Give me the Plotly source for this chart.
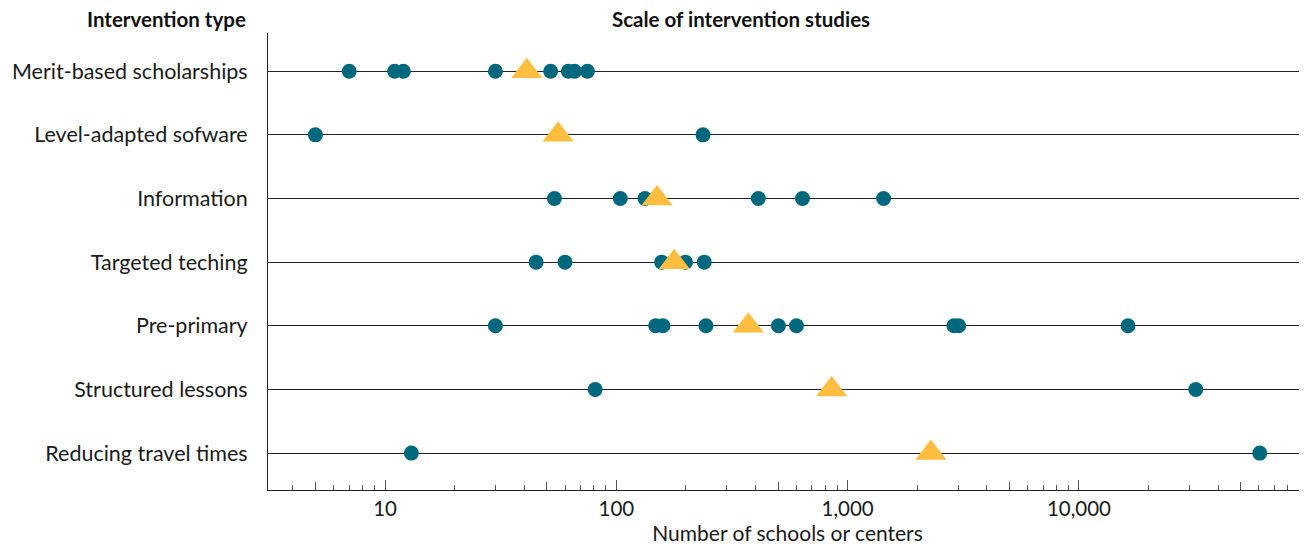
import plotly.graph_objects as go

categories = [
    "Merit-based scholarships",
    "Level-adapted sofware",
    "Information",
    "Targeted teching",
    "Pre-primary",
    "Structured lessons",
    "Reducing travel times",
]

merit_studies = [7, 11, 12, 30, 52, 62, 66, 75]
software_studies = [5, 237]
information_studies = [54, 104, 133, 411, 638, 1430]
targeted_studies = [45, 60, 157, 199, 240]
preprimary_studies = [30, 148, 159, 244, 502, 601, 2880, 3020, 16300]
structured_studies = [81, 32000]
travel_studies = [13, 60500]

study_values = [
    merit_studies,
    software_studies,
    information_studies,
    targeted_studies,
    preprimary_studies,
    structured_studies,
    travel_studies,
]

average_values = [41, 56, 150, 178, 372, 853, 2290]

tick_values = [10, 100, 1000, 10000]
tick_labels = ["10", "100", "1,000", "10,000"]
mid_tick_values = [5, 50, 500, 5000, 50000]

TEAL = "#00687D"
YELLOW = "#FFBE40"
FONT = "Lato"
TXT = "#1a1a1a"

fig = go.Figure()

xs, ys = [], []
for cat, vals in zip(categories, study_values):
    for v in vals:
        xs.append(v)
        ys.append(cat)

fig.add_trace(go.Scatter(
    x=xs, y=ys, mode="markers",
    marker=dict(symbol="circle", size=15, color=TEAL, line=dict(width=0)),
    showlegend=False, hoverinfo="x+y",
))

fig.add_trace(go.Scatter(
    x=average_values, y=categories, mode="markers",
    marker=dict(symbol="triangle-up", size=27, color=YELLOW, line=dict(width=0)),
    showlegend=False, hoverinfo="x+y",
))

# invisible trace on overlaid axis carrying the mid (5x) ticks
fig.add_trace(go.Scatter(
    x=[mid_tick_values[0]], y=[categories[0]], xaxis="x2", mode="markers",
    marker=dict(opacity=0), showlegend=False, hoverinfo="skip",
))

xrange = [0.494, 4.986]

fig.update_layout(
    width=1299, height=538,
    margin=dict(l=260, r=0, t=25, b=56, autoexpand=False),
    paper_bgcolor="white", plot_bgcolor="white",
    font=dict(family=FONT, size=20, color=TXT),
    xaxis=dict(
        type="log", range=xrange, automargin=False,
        tickvals=tick_values, ticktext=tick_labels,
        ticks="inside", ticklen=10, tickcolor="#555555", tickwidth=1,
        showline=True, linecolor="#222222", linewidth=1,
        showgrid=False, zeroline=False,
        tickfont=dict(family=FONT, size=20.5, color=TXT),
        title=dict(text="Number of schools or centers",
                   font=dict(family=FONT, size=21, color=TXT), standoff=2),
        minor=dict(dtick="D1", ticks="inside", ticklen=5, tickcolor="#555555",
                   tickwidth=1, showgrid=False),
    ),
    xaxis2=dict(
        type="log", range=xrange, overlaying="x", anchor="y", side="bottom",
        tickvals=mid_tick_values, showticklabels=False, automargin=False,
        ticks="inside", ticklen=8, tickcolor="#555555", tickwidth=1,
        showgrid=False, showline=False, zeroline=False,
    ),
    yaxis=dict(
        type="category", categoryorder="array", categoryarray=categories,
        range=[6.58, -0.6], automargin=False,
        showgrid=True, gridcolor="#222222", gridwidth=1,
        showline=True, linecolor="#222222", linewidth=1,
        ticks="", ticklabelstandoff=15,
        tickfont=dict(family=FONT, size=21.5, color=TXT),
        zeroline=False,
    ),
    annotations=[
        dict(text="<b>Intervention type</b>", xref="paper", yref="paper",
             x=-0.019, y=1.0, xanchor="right", yanchor="bottom", yshift=0,
             showarrow=False, font=dict(family=FONT, size=20.5, color="#111111")),
        dict(text="<b>Scale of intervention studies</b>", xref="paper", yref="paper",
             x=0.455, y=1.0, xanchor="center", yanchor="bottom", yshift=0,
             showarrow=False, font=dict(family=FONT, size=20.5, color="#111111")),
    ],
)

fig.write_html("out.html")
